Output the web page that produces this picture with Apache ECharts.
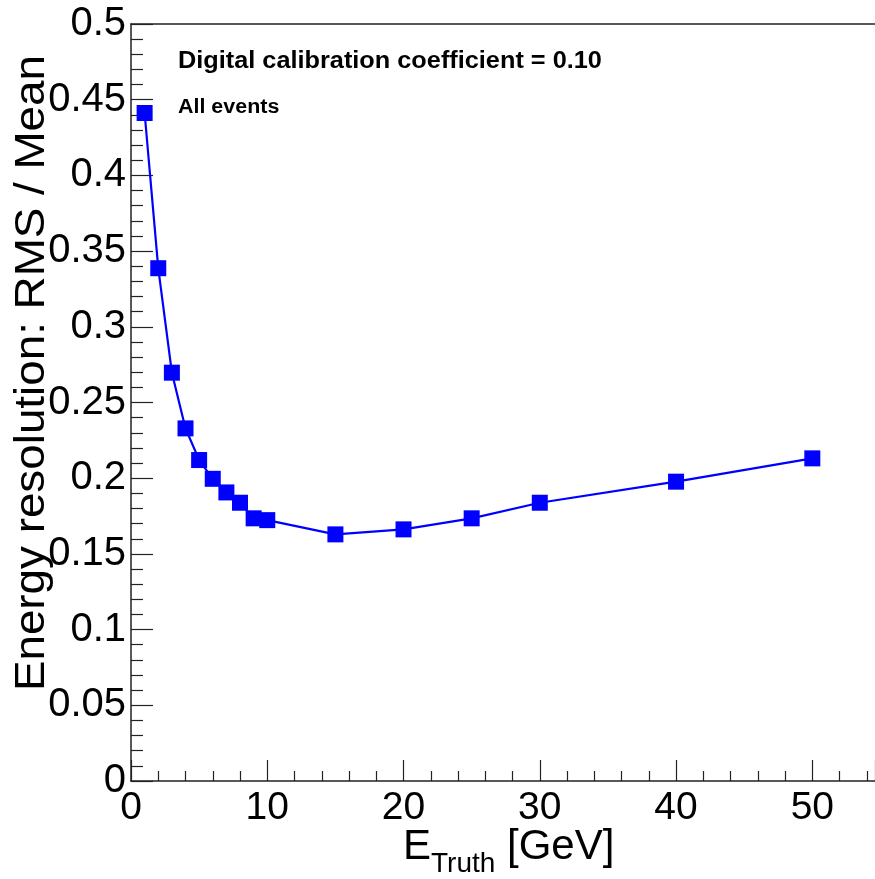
<!DOCTYPE html>
<html>
<head>
<meta charset="utf-8">
<script src="https://cdn.jsdelivr.net/npm/echarts@6/dist/echarts.min.js"></script>
<style>html,body{margin:0;padding:0;background:#fff;}#c{width:875px;height:879px;}</style>
</head>
<body>
<div id="c"></div>
<script>
const energies = [1, 2, 3, 4, 5, 6, 7, 8, 9, 10, 15, 20, 25, 30, 40, 50];
const resolution = [0.4412, 0.3387, 0.2697, 0.2329, 0.2120, 0.1996, 0.1906, 0.1838, 0.1735, 0.1723, 0.1629, 0.1662, 0.1735, 0.1838, 0.1977, 0.2131];
const xTitle = 'E';
const xTitleSub = 'Truth';
const xTitleUnit = ' [GeV]';
const yTitle = 'Energy resolution: RMS / Mean';
const note1 = 'Digital calibration coefficient = 0.10';
const note2 = 'All events';

const FONT = '"Liberation Sans", Arial, Helvetica, sans-serif';
const chart = echarts.init(document.getElementById('c'), null, {renderer: 'canvas'});
const lineCol = '#222';
chart.setOption({
  animation: false,
  backgroundColor: '#ffffff',
  grid: {left: 131, top: 24, right: 0, height: 757, show: false},
  xAxis: [{
    type: 'value', min: 0, max: 54.6, interval: 10,
    axisLine: {show: true, lineStyle: {color: lineCol, width: 1.5}},
    axisTick: {show: true, inside: true, length: 21, lineStyle: {color: lineCol, width: 1.2}},
    minorTick: {show: true, splitNumber: 5, length: 10, lineStyle: {color: lineCol, width: 1.2}},
    splitLine: {show: false},
    axisLabel: {color: '#000', fontFamily: FONT, fontSize: 39, margin: 8, showMaxLabel: false}
  }, {
    type: 'value', position: 'top', min: 0, max: 54.6,
    axisLine: {show: true, lineStyle: {color: lineCol, width: 1.5}},
    axisTick: {show: false}, axisLabel: {show: false}, splitLine: {show: false}
  }],
  yAxis: {
    type: 'value', min: 0, max: 0.5, interval: 0.05,
    axisLine: {show: true, lineStyle: {color: lineCol, width: 1.5}},
    axisTick: {show: true, inside: true, length: 22, lineStyle: {color: lineCol, width: 1.2}},
    minorTick: {show: true, splitNumber: 5, length: 12, lineStyle: {color: lineCol, width: 1.2}},
    splitLine: {show: false},
    axisLabel: {color: '#000', fontFamily: FONT, fontSize: 40, margin: 5,
      formatter: function (v) { return String(Math.round(v * 100) / 100); }}
  },
  series: [{
    type: 'line',
    xAxisIndex: 0,
    data: energies.map((e, i) => [e, resolution[i]]),
    symbol: 'rect', symbolSize: 16,
    lineStyle: {color: '#0000ff', width: 2.2},
    itemStyle: {color: '#0000ff'},
    clip: false
  }],
  graphic: [
    {type: 'text', x: 178, y: 50, scaleX: 1.1,
      style: {text: note1, font: 'bold 23px ' + FONT, fill: '#000', textVerticalAlign: 'top'}},
    {type: 'text', x: 178, y: 98, scaleX: 1.1,
      style: {text: note2, font: 'bold 19.5px ' + FONT, fill: '#000', textVerticalAlign: 'top'}},
    {type: 'text', x: 53, y: 55, rotation: Math.PI / 2, scaleX: 1.09,
      style: {text: yTitle, font: '42px ' + FONT, fill: '#000', textAlign: 'right', textVerticalAlign: 'bottom'}},
    {type: 'text', x: 403, y: 868,
      style: {
        text: '{m|' + xTitle + '}{s|' + xTitleSub + '}{m|' + xTitleUnit + '}',
        textVerticalAlign: 'bottom',
        rich: {
          m: {fontFamily: FONT, fontSize: 42, fill: '#000', color: '#000', verticalAlign: 'bottom'},
          s: {fontFamily: FONT, fontSize: 28, fill: '#000', color: '#000', verticalAlign: 'bottom', padding: [0, 0, -10, 0]}
        }
      }}
  ]
});
</script>
</body>
</html>
